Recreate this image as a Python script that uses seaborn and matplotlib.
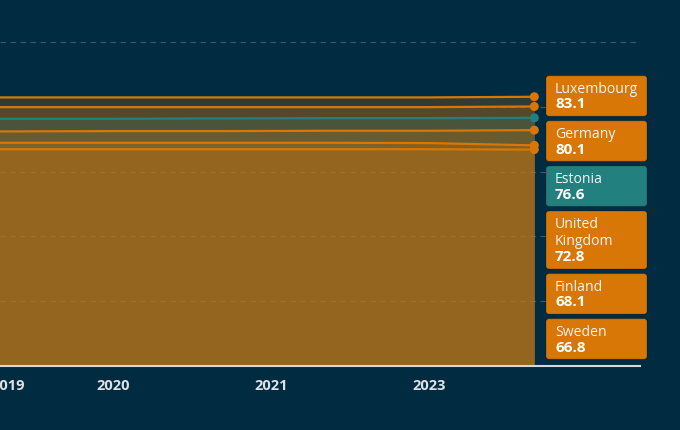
import numpy as np
import pandas as pd
import matplotlib.pyplot as plt
import matplotlib.patches as mpatches
from matplotlib.transforms import Affine2D
import seaborn as sns

# data
years = [2018, 2019, 2020, 2021, 2022, 2023, 2024]
countries = ['Luxembourg', 'Germany', 'Estonia', 'United Kingdom', 'Finland', 'Sweden']
luxembourg = [82.9, 82.9, 82.9, 82.9, 82.9, 82.9, 83.1]
germany = [79.9, 79.9, 79.9, 79.9, 79.9, 79.9, 80.1]
estonia = [76.2, 76.3, 76.3, 76.4, 76.5, 76.5, 76.6]
united_kingdom = [72.4, 72.4, 72.5, 72.5, 72.6, 72.6, 72.8]
finland = [68.9, 68.9, 68.9, 68.9, 68.9, 68.8, 68.1]
sweden = [66.9, 66.9, 66.9, 66.9, 66.9, 66.9, 66.8]

tick_pos = [2019, 2020, 2021.5, 2023]
tick_labels = ['2019', '2020', '2021', '2023']
box_names = ['Luxembourg', 'Germany', 'Estonia', 'United\nKingdom', 'Finland', 'Sweden']

bg = '#002b40'
orange = '#d97706'
teal = '#22817f'
palette = {c: orange for c in countries}
palette['Estonia'] = teal

series = [luxembourg, germany, estonia, united_kingdom, finland, sweden]
df = pd.DataFrame({
    'year': np.tile(years, len(countries)),
    'country': np.repeat(countries, len(years)),
    'value': np.concatenate(series),
})

sns.set_style('dark', {'axes.facecolor': bg, 'figure.facecolor': bg})
plt.rcParams['font.family'] = ['Open Sans', 'DejaVu Sans']

fig = plt.figure(figsize=(6.8, 4.3), dpi=100)
fig.patch.set_facecolor(bg)
ax = fig.add_axes([0, 64 / 430, 640 / 680, 102 * 3.24 / 430])

for c, vals in zip(countries, series):
    ax.fill_between(years, vals, 0, color=palette[c], alpha=0.22, lw=0, zorder=1)

sns.lineplot(data=df, x='year', y='value', hue='country', palette=palette,
             linewidth=1.6, legend=False, ax=ax, zorder=3)
last = df[df['year'] == years[-1]]
sns.scatterplot(data=last, x='year', y='value', hue='country', palette=palette,
                s=42, linewidth=0, legend=False, ax=ax, zorder=4)

ax.set_xlim(2020 - 113 / 105.33, 2020 + 527 / 105.33)
ax.set_ylim(0, 102)
ax.set_xticks(tick_pos)
ax.set_xticklabels(tick_labels)
ax.set_yticks([0, 20, 40, 60, 80, 100])
ax.set_yticklabels([])
ax.tick_params(axis='both', length=0)
ax.tick_params(axis='x', pad=9, labelsize=10.5, labelcolor='#dde1e4')
for lab in ax.get_xticklabels():
    lab.set_fontweight('bold')
ax.set_xlabel('')
ax.set_ylabel('')
ax.grid(axis='y', color='#3a5b6d', linestyle=(0, (5, 4)), linewidth=0.8)
ax.grid(axis='x', visible=False)
ax.set_axisbelow(True)
for s in ['top', 'left', 'right']:
    ax.spines[s].set_visible(False)
ax.spines['bottom'].set_visible(True)
ax.spines['bottom'].set_color('#d3d9dd')
ax.spines['bottom'].set_linewidth(1.5)

# right-hand labels stacked in pixel space (origin top-left)
px = Affine2D().scale(1 / 680, -1 / 430).translate(0, 1) + fig.transFigure
top = 75.7
for c, name, vals in zip(countries, box_names, series):
    lines = name.split('\n')
    h = 40.5 if len(lines) == 1 else 58.0
    box = mpatches.FancyBboxPatch((546, top), 101, h, boxstyle='round,pad=0,rounding_size=3',
                                  transform=px, facecolor=palette[c], edgecolor='#00000030',
                                  linewidth=0.8, zorder=10)
    fig.patches.append(box)
    base = top + 17
    for line in lines:
        fig.text(555, base, line, transform=px, fontsize=10.1, color='#f4f4f4',
                 va='baseline', ha='left', zorder=11)
        base += 16.8
    fig.text(555, base - 1, f'{vals[-1]:.1f}', transform=px,
             fontsize=11, fontweight='bold', color='white', va='baseline', ha='left', zorder=11)
    top += h + 4.6

fig.savefig('out.png', dpi=100, facecolor=bg)
